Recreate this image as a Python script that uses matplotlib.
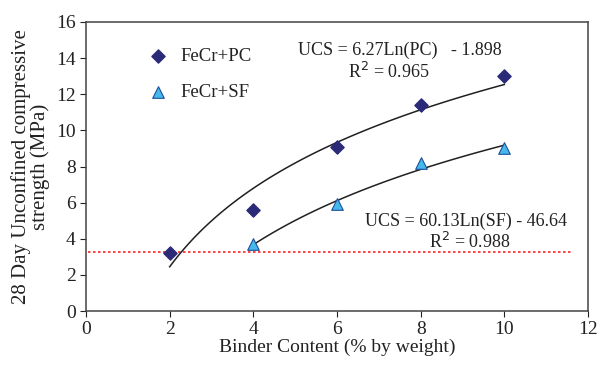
import matplotlib.pyplot as plt
import numpy as np

plt.rcParams['font.family'] = ['Liberation Serif', 'DejaVu Serif']

# data
pc_x = [2, 4, 6, 8, 10]
pc_y = [3.2, 5.6, 9.1, 11.4, 13.0]
sf_x = [4, 6, 8, 10]
sf_y = [3.7, 5.9, 8.2, 9.0]
ref_level = 3.25

xticks = [0, 2, 4, 6, 8, 10, 12]
yticks = [0, 2, 4, 6, 8, 10, 12, 14, 16]

# logarithmic trendlines
a_pc, b_pc = 6.27, -1.898
a_sf, b_sf = np.polyfit(np.log(sf_x), sf_y, 1)
xp = np.linspace(2, 10, 100)
xs = np.linspace(4, 10, 100)

fig = plt.figure(figsize=(6.01, 3.68), dpi=100)
ax = fig.add_axes([86/601, 57/368, 502/601, 289/368])

ax.plot([0.05, 11.62], [ref_level, ref_level], color='#ff2020', ls=(0, (1.5, 1.5)), lw=1.2, zorder=1)
ax.plot(xp, a_pc*np.log(xp) + b_pc, color='#202020', lw=1.1, zorder=2)
ax.plot(xs, a_sf*np.log(xs) + b_sf, color='#202020', lw=1.1, zorder=2)

ax.scatter(pc_x, pc_y, marker='D', s=45, color='#2b2a78', zorder=3, label='FeCr+PC')
ax.scatter(sf_x, sf_y, marker='^', s=70, color='#45b8ec', edgecolor='#1f4e9a',
           linewidth=0.8, zorder=3, label='FeCr+SF')

ax.set_xlim(0, 12)
ax.set_ylim(0, 16)
ax.set_xticks(xticks)
ax.set_yticks(yticks)
ax.tick_params(direction='out', length=4, labelsize=14, colors='#222222')
for s in ax.spines.values():
    s.set_color('#444444')
    s.set_linewidth(1.1)

ax.set_xlabel('Binder Content (% by weight)', fontsize=14, color='#222222', labelpad=0)
ax.set_ylabel('28 Day Unconfined compressive\nstrength (MPa)', fontsize=15,
              color='#222222', labelpad=4, linespacing=0.95)

ax.legend(loc='upper left', bbox_to_anchor=(0.072, 0.97), frameon=False, fontsize=13.5,
          labelspacing=1.0, handletextpad=0.2, labelcolor='#222222')

ax.text(7.5, 14.45, 'UCS = 6.27Ln(PC)   - 1.898', ha='center', va='center', fontsize=13, color='#222222')
ax.text(7.25, 13.25, 'R$^2$ = 0.965', ha='center', va='center', fontsize=13, color='#222222')
ax.text(9.08, 4.95, 'UCS = 60.13Ln(SF) - 46.64', ha='center', va='center', fontsize=13, color='#222222')
ax.text(9.18, 3.85, 'R$^2$ = 0.988', ha='center', va='center', fontsize=13, color='#222222')

fig.savefig('out.png', dpi=100)
